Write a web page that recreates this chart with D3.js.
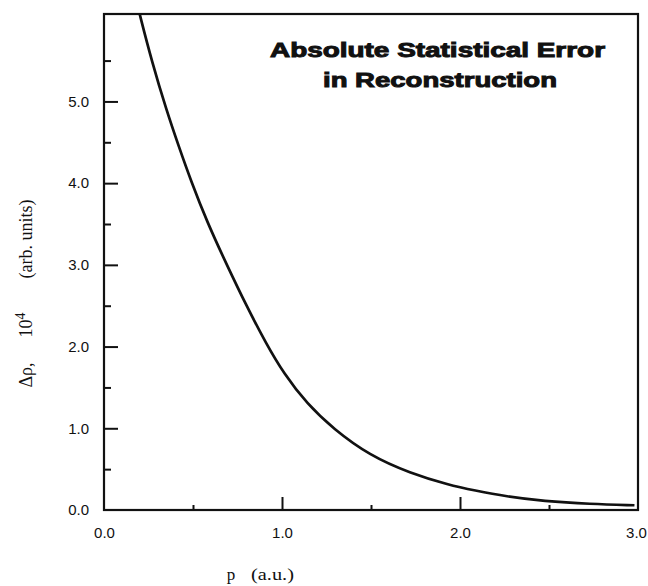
<!DOCTYPE html>
<html>
<head>
<meta charset="utf-8">
<script src="https://cdn.jsdelivr.net/npm/d3@7"></script>
<style>
  html, body { margin: 0; padding: 0; background: #fff; }
  svg { display: block; }
  .tick text { font-family: "Liberation Sans", Arial, Helvetica, sans-serif; font-size: 15px; fill: #111; }
</style>
</head>
<body>
<svg id="chart" width="648" height="586"></svg>
<script>
// Momentum p (a.u.) and absolute statistical error (×10^4, arb. units)
const momentum = [0.18, 0.20, 0.27, 0.35, 0.42, 0.49, 0.58, 0.69, 0.80, 0.91, 1.01, 1.14, 1.29, 1.49, 1.72, 1.94, 2.08, 2.26, 2.47, 2.73, 2.98];
const errorValues = [6.25, 6.07, 5.48, 4.90, 4.45, 4.02, 3.52, 3.00, 2.50, 2.04, 1.67, 1.30, 0.99, 0.67, 0.45, 0.305, 0.24, 0.165, 0.108, 0.073, 0.058];

const xMajorTicks = [0.0, 1.0, 2.0, 3.0];
const xMinorTicks = [0.5, 1.5, 2.5];
const yMajorTicks = [0.0, 1.0, 2.0, 3.0, 4.0, 5.0];
const yMinorTicks = [0.5, 1.5, 2.5, 3.5, 4.5, 5.5];

const titleLines = ["Absolute Statistical Error", "in Reconstruction"];

const svg = d3.select("#chart");
const plot = { left: 104, right: 638, top: 14, bottom: 510 };

const x = d3.scaleLinear().domain([0, 3]).range([plot.left, plot.right]);
const y = d3.scaleLinear().domain([0, 6.07]).range([plot.bottom, plot.top]);

const fmt = d3.format(".1f");

// x axis: long ticks at whole units, short ones at halves, all pointing inward
const xMajor = svg.append("g")
  .attr("transform", `translate(0,${plot.bottom})`)
  .call(d3.axisBottom(x).tickValues(xMajorTicks).tickFormat(fmt)
    .tickSizeInner(-13).tickSizeOuter(0).tickPadding(17));
const xMinor = svg.append("g")
  .attr("transform", `translate(0,${plot.bottom})`)
  .call(d3.axisBottom(x).tickValues(xMinorTicks).tickFormat("")
    .tickSizeInner(-5).tickSizeOuter(0));

// y axis
const yMajor = svg.append("g")
  .attr("transform", `translate(${plot.left},0)`)
  .call(d3.axisLeft(y).tickValues(yMajorTicks).tickFormat(fmt)
    .tickSizeInner(-14).tickSizeOuter(0).tickPadding(15));
const yMinor = svg.append("g")
  .attr("transform", `translate(${plot.left},0)`)
  .call(d3.axisLeft(y).tickValues(yMinorTicks).tickFormat("")
    .tickSizeInner(-7).tickSizeOuter(0));

[xMajor, xMinor, yMajor, yMinor].forEach(g => {
  g.select(".domain").remove();
  g.selectAll(".tick line").attr("stroke", "#111").attr("stroke-width", 2);
});
// end ticks sit on the frame itself
xMajor.selectAll(".tick").filter(d => d === 0 || d === 3).select("line").remove();
yMajor.selectAll(".tick").filter(d => d === 0).select("line").remove();
// keep the last x label inside the page
xMajor.selectAll(".tick").filter(d => d === 3).select("text").attr("dx", -2);

// frame
svg.append("rect")
  .attr("x", plot.left).attr("y", plot.top)
  .attr("width", plot.right - plot.left).attr("height", plot.bottom - plot.top)
  .attr("fill", "none").attr("stroke", "#111").attr("stroke-width", 2.2);

// curve, clipped to the frame
svg.append("clipPath").attr("id", "plot-clip")
  .append("rect")
  .attr("x", plot.left).attr("y", plot.top)
  .attr("width", plot.right - plot.left).attr("height", plot.bottom - plot.top);

const points = momentum.map((p, i) => [p, errorValues[i]]);
const line = d3.line()
  .x(d => x(d[0]))
  .y(d => y(d[1]))
  .curve(d3.curveBasis);

svg.append("path")
  .datum(points)
  .attr("clip-path", "url(#plot-clip)")
  .attr("fill", "none")
  .attr("stroke", "#111")
  .attr("stroke-width", 2.7)
  .attr("d", line);

// title
const titleSpecs = [
  { text: titleLines[0], x: 270, y: 57, len: 335 },
  { text: titleLines[1], x: 323, y: 87, len: 234 }
];
svg.selectAll("text.title")
  .data(titleSpecs)
  .join("text")
  .attr("class", "title")
  .attr("x", d => d.x)
  .attr("y", d => d.y)
  .attr("textLength", d => d.len)
  .attr("lengthAdjust", "spacingAndGlyphs")
  .attr("font-family", "'Liberation Sans', Arial, Helvetica, sans-serif")
  .attr("font-weight", "bold")
  .attr("font-size", 21)
  .attr("fill", "#111")
  .attr("stroke", "#111")
  .attr("stroke-width", 1)
  .text(d => d.text);

// x axis label
const serif = "'Liberation Serif', 'Times New Roman', Times, serif";
svg.append("text")
  .attr("x", 231).attr("y", 580)
  .attr("text-anchor", "middle")
  .attr("font-family", serif).attr("font-size", 17).attr("fill", "#111")
  .text("p");
svg.append("text")
  .attr("x", 251).attr("y", 580)
  .attr("textLength", 43).attr("lengthAdjust", "spacingAndGlyphs")
  .attr("font-family", serif).attr("font-size", 17).attr("fill", "#111")
  .text("(a.u.)");

// y axis label, rotated, in three pieces
const yLabel = svg.append("g").attr("transform", "translate(32,0) rotate(-90)");
yLabel.append("text")
  .attr("x", -375).attr("y", 0)
  .attr("text-anchor", "middle")
  .attr("font-family", serif).attr("font-size", 18).attr("fill", "#111")
  .text("Δρ,");
const tenPow = yLabel.append("text")
  .attr("x", -325).attr("y", 0)
  .attr("text-anchor", "middle")
  .attr("font-family", serif).attr("font-size", 18).attr("fill", "#111");
tenPow.append("tspan").text("10");
tenPow.append("tspan").attr("dy", -7).attr("font-size", 14).text("4");
yLabel.append("text")
  .attr("x", -239).attr("y", 0)
  .attr("text-anchor", "middle")
  .attr("font-family", serif).attr("font-size", 18).attr("fill", "#111")
  .text("(arb. units)");
</script>
</body>
</html>
